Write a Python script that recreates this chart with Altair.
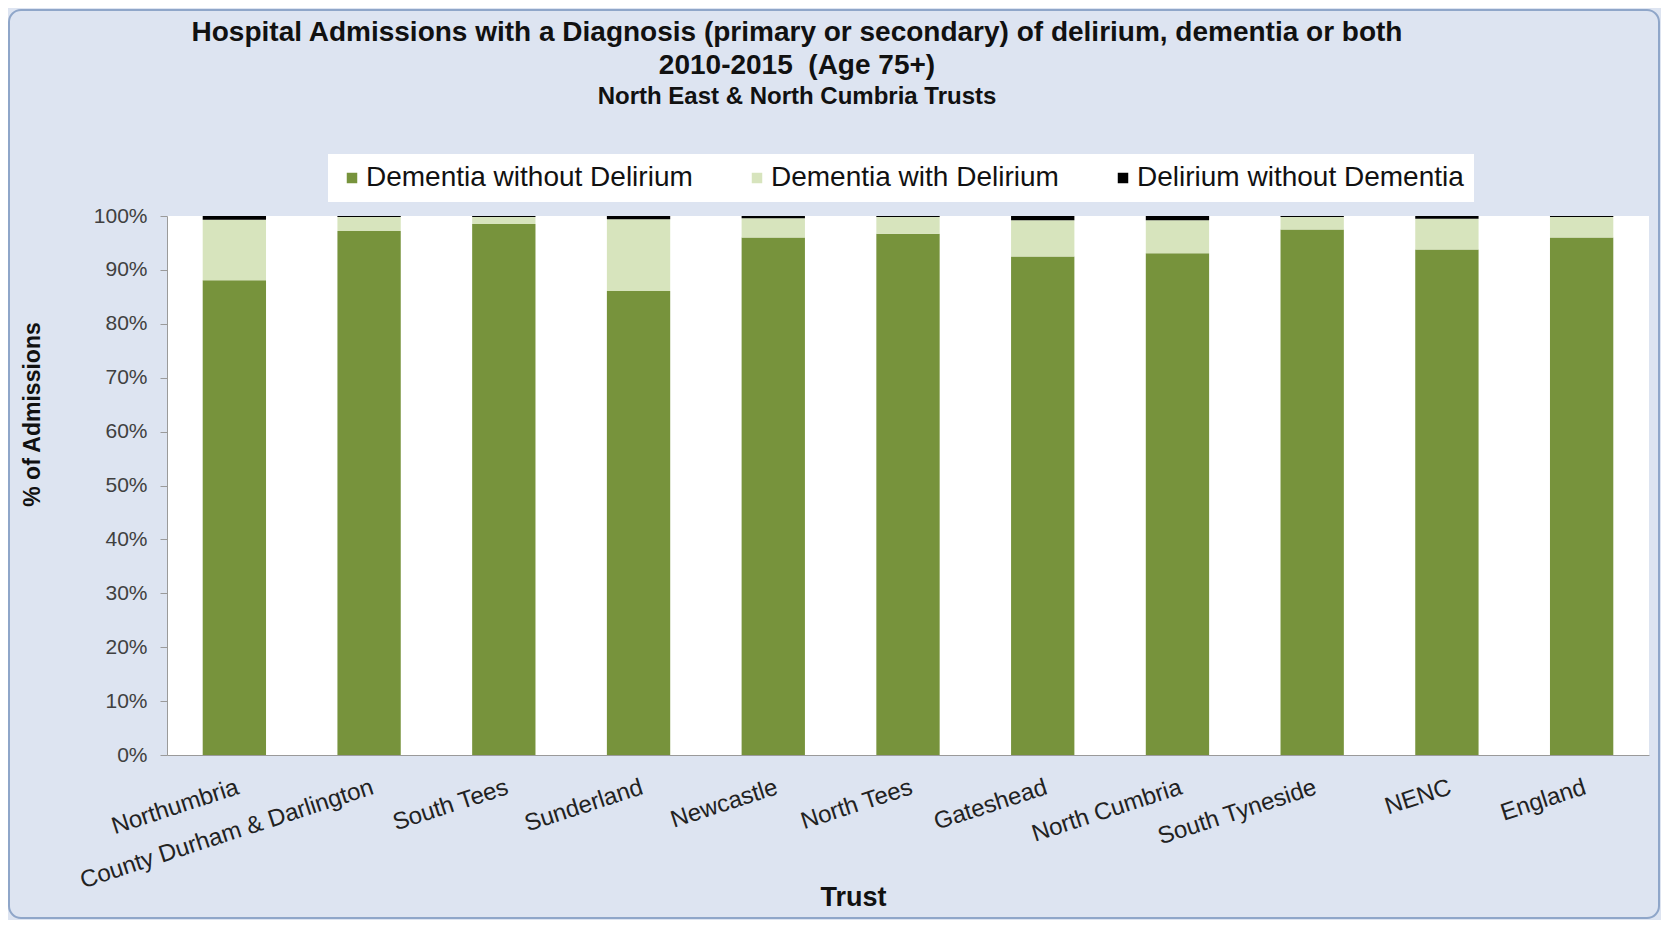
import altair as alt
import pandas as pd

trusts = ["Northumbria", "County Durham & Darlington", "South Tees", "Sunderland",
          "Newcastle", "North Tees", "Gateshead", "North Cumbria", "South Tyneside",
          "NENC", "England"]
dementia_without_delirium = [88.1, 97.2, 98.5, 86.1, 96.0, 96.7, 92.5, 93.1, 97.5, 93.8, 96.0]
dementia_with_delirium = [11.2, 2.6, 1.3, 13.3, 3.6, 3.1, 6.7, 6.1, 2.3, 5.7, 3.8]
delirium_without_dementia = [0.7, 0.2, 0.2, 0.6, 0.4, 0.2, 0.8, 0.8, 0.2, 0.5, 0.2]

series_names = ["Dementia without Delirium", "Dementia with Delirium", "Delirium without Dementia"]
series_colors = ["#77933C", "#D7E4BD", "#000000"]
y_ticks = [0, 10, 20, 30, 40, 50, 60, 70, 80, 90, 100]

rows = []
for i, t in enumerate(trusts):
    for k, vals in enumerate([dementia_without_delirium, dementia_with_delirium, delirium_without_dementia]):
        rows.append({"Trust": t, "Series": series_names[k], "Value": vals[i], "ord": k})
df = pd.DataFrame(rows)

FONT = "Liberation Sans"
W, H = 1482, 539

bars = alt.Chart(df).mark_bar().encode(
    x=alt.X("Trust:N", sort=trusts,
            scale=alt.Scale(paddingInner=0.53, paddingOuter=0.265),
            axis=alt.Axis(title="Trust", labelAngle=342, labelAlign="right", labelBaseline="top",
                          labelFontSize=24, labelColor="#222222", labelPadding=20, ticks=False,
                          domainColor="#9a9a9a", titleFontSize=27, titleFontWeight="bold",
                          titleColor="#111111", titleX=686, titleY=142, titleBaseline="middle",
                          labelLimit=400)),
    y=alt.Y("Value:Q", stack="zero",
            scale=alt.Scale(domain=[0, 100], nice=False),
            axis=alt.Axis(title="% of Admissions", values=y_ticks, labelExpr="datum.value + '%'",
                          labelFontSize=21, labelColor="#404040", grid=False, tickSize=7,
                          tickColor="#9a9a9a", domainColor="#9a9a9a", labelPadding=13,
                          titleFontSize=23, titleFontWeight="bold", titleColor="#111111",
                          titleAngle=270, titleX=-135, titleY=198, titleAlign="center",
                          titleBaseline="middle")),
    color=alt.Color("Series:N", sort=series_names,
                    scale=alt.Scale(domain=series_names, range=series_colors),
                    legend=alt.Legend(title=None, orient="none", direction="horizontal",
                                      legendX=161, legendY=-62, columns=3, columnPadding=50,
                                      symbolType="square", symbolSize=110, symbolStrokeWidth=0,
                                      labelFontSize=28, labelColor="#111111", labelOffset=0,
                                      fillColor="white", padding=10, labelLimit=500)),
    order=alt.Order("ord:Q", sort="ascending"),
)

frame = alt.Chart(pd.DataFrame({"f": [0]})).mark_rect(
    fill="white", fillOpacity=0, stroke="#8FA6C9", strokeWidth=2, cornerRadius=12
).encode(
    x=alt.value(-158), x2=alt.value(W + 10),
    y=alt.value(-206), y2=alt.value(H + 163),
)

chart = alt.layer(bars, frame).properties(
    width=W,
    height=H,
    title=alt.TitleParams(
        text=["Hospital Admissions with a Diagnosis (primary or secondary) of delirium, dementia or both",
              "2010-2015\u00a0 (Age 75+)"],
        subtitle="North East & North Cumbria Trusts",
        anchor="middle", dx=-111, fontSize=28, fontWeight="bold", color="#111111",
        lineHeight=33, subtitleFontSize=24, subtitleFontWeight="bold", subtitleColor="#111111",
        subtitlePadding=5, offset=-100, font=FONT, subtitleFont=FONT),
    autosize=alt.AutoSizeParams(type="none"),
    padding={"left": 159, "top": 208, "right": 12, "bottom": 165},
    background="#DDE4F1",
).configure(font=FONT).configure_view(fill="white", stroke=None)

chart.save("out.html", embed_options={"renderer": "svg", "actions": False})
